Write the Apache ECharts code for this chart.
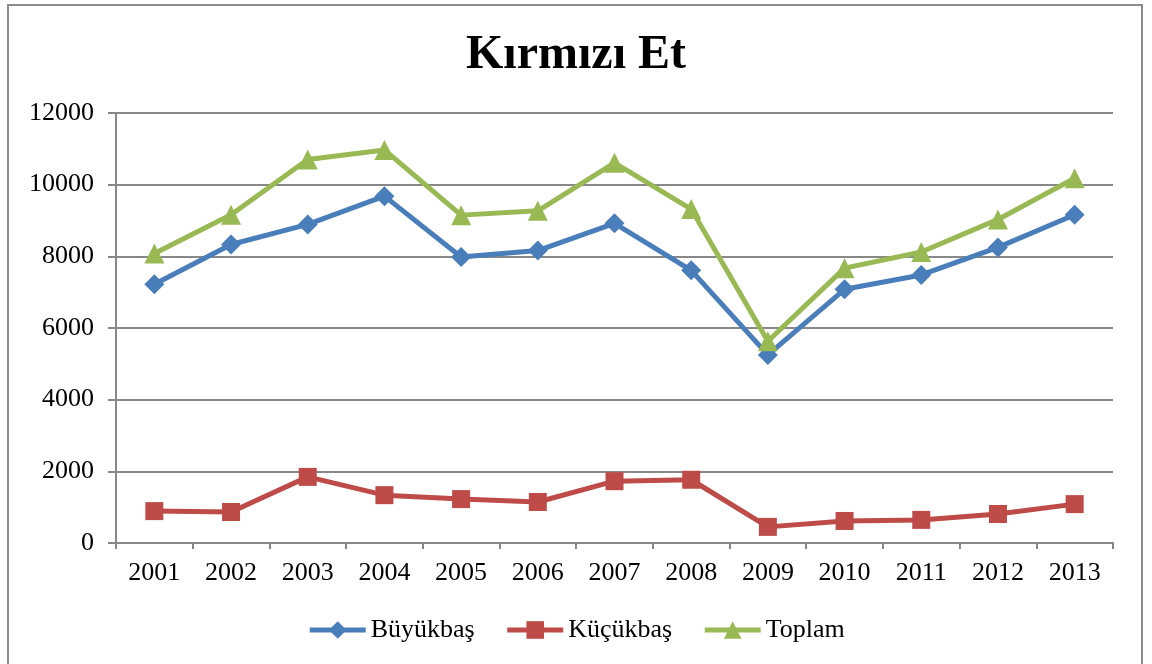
<!DOCTYPE html>
<html>
<head>
<meta charset="utf-8">
<script src="https://cdn.jsdelivr.net/npm/echarts@6/dist/echarts.min.js"></script>
<style>
html, body { margin: 0; padding: 0; background: #fff; }
#chart { width: 1152px; height: 664px; }
</style>
</head>
<body>
<div id="chart"></div>
<script>
// yillar ve seriler
var years = ['2001','2002','2003','2004','2005','2006','2007','2008','2009','2010','2011','2012','2013'];
var buyukbas = [7220, 8330, 8890, 9680, 7980, 8160, 8920, 7610, 5250, 7080, 7480, 8250, 9160];
var kucukbas = [890, 865, 1845, 1335, 1225, 1145, 1725, 1765, 450, 615, 645, 810, 1085];
var toplam = [8080, 9160, 10700, 10970, 9150, 9270, 10610, 9320, 5630, 7670, 8120, 9030, 10180];

var font = '"Liberation Serif", "Times New Roman", serif';
var gridGray = '#888888';

var myChart = echarts.init(document.getElementById('chart'));
var option = {
	backgroundColor : '#fff',
	textStyle : { fontFamily : font },
	graphic : [ {
		type : 'rect',
		shape : { x : 8, y : 5, width : 1134, height : 680 },
		style : { fill : 'none', stroke : '#8c8c8c', lineWidth : 2 },
		silent : true
	} ],
	title : {
		text : 'Kırmızı Et',
		left : 'center',
		top : 27,
		textStyle : { fontFamily : font, fontSize : 48, fontWeight : 'bold', color : '#000' }
	},
	legend : {
		top : 612,
		left : 'center',
		itemWidth : 56,
		itemHeight : 22,
		itemGap : 30,
		lineStyle : { width : 5 },
		textStyle : { fontFamily : font, fontSize : 26, color : '#000' },
		data : [ 'Büyükbaş', 'Küçükbaş', 'Toplam' ]
	},
	grid : {
		left : 116,
		right : 39,
		top : 113,
		bottom : 121
	},
	xAxis : {
		type : 'category',
		boundaryGap : true,
		data : years,
		axisLine : { lineStyle : { color : gridGray, width : 2 } },
		axisTick : { show : true, length : 6, lineStyle : { color : gridGray, width : 2 } },
		axisLabel : { fontFamily : font, fontSize : 26, color : '#000', margin : 17 }
	},
	yAxis : {
		type : 'value',
		min : 0,
		max : 12000,
		interval : 2000,
		axisLine : { show : true, lineStyle : { color : gridGray, width : 2 } },
		axisTick : { show : true, length : 8, lineStyle : { color : gridGray, width : 2 } },
		axisLabel : {
			fontFamily : font, fontSize : 26, color : '#000', margin : 22,
			formatter : function (v) { return String(v); }
		},
		splitLine : { lineStyle : { color : gridGray, width : 2 } }
	},
	series : [ {
		name : 'Büyükbaş',
		type : 'line',
		data : buyukbas,
		symbol : 'diamond',
		symbolSize : 20,
		color : '#4A7EBB',
		lineStyle : { width : 5, color : '#4A7EBB' },
		itemStyle : { color : '#4A7EBB' }
	}, {
		name : 'Küçükbaş',
		type : 'line',
		data : kucukbas,
		symbol : 'rect',
		symbolSize : 18,
		color : '#BE4B48',
		lineStyle : { width : 5, color : '#BE4B48' },
		itemStyle : { color : '#BE4B48' }
	}, {
		name : 'Toplam',
		type : 'line',
		data : toplam,
		symbol : 'triangle',
		symbolSize : 20,
		color : '#98B954',
		lineStyle : { width : 5, color : '#98B954' },
		itemStyle : { color : '#98B954' }
	} ]
};
myChart.setOption(option);
</script>
</body>
</html>
